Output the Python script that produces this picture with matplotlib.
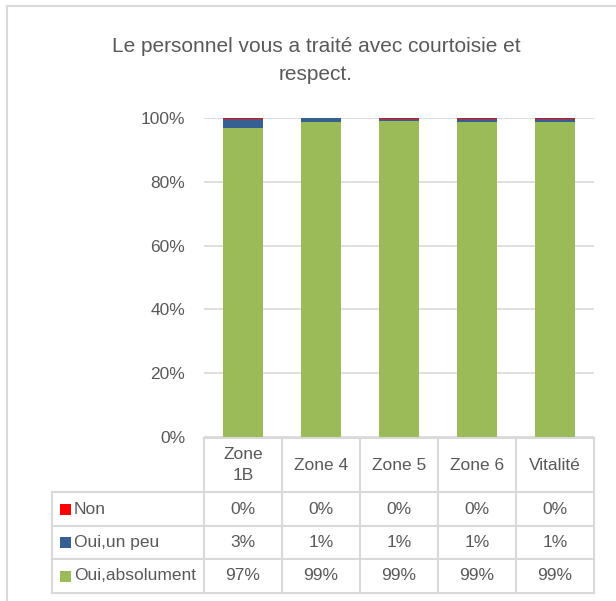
import numpy as np
from matplotlib import pyplot as plt
from matplotlib.lines import Line2D
from matplotlib.patches import Rectangle

plt.rcParams['font.family'] = ['Liberation Sans', 'DejaVu Sans']

# data (percent)
categories = ["Zone\n1B", "Zone 4", "Zone 5", "Zone 6", "Vitalité"]
series_names = ["Non", "Oui,un peu", "Oui,absolument"]
non = np.asarray([0.4, 0.1, 0.2, 0.2, 0.3])
un_peu = np.asarray([2.6, 1.0, 0.7, 1.1, 1.1])
absolument = np.asarray([97.0, 98.9, 99.1, 98.7, 98.6])
yticks = [0, 20, 40, 60, 80, 100]

red = "#FF0000"
blue = "#376092"
green = "#9BBB59"
grey = "#D9D9D9"
txt = "#595959"

W, H = 616, 601
fig = plt.figure(figsize=(W / 100, H / 100), dpi=100)

def fx(x):
    return x / W

def fy(y):
    return 1 - y / H

# chart border
fig.add_artist(Line2D([fx(7), fx(7)], [fy(6), fy(601)], color=grey, lw=1.5))
fig.add_artist(Line2D([fx(7), fx(616)], [fy(6), fy(6)], color=grey, lw=1.5))

fig.text(fx(316), fy(60), "Le personnel vous a traité avec courtoisie et\nrespect.",
         ha="center", va="center", fontsize=15, color=txt, linespacing=1.6)

# plot area
left, right, top, bottom = 204, 594, 118, 437
ax = fig.add_axes([fx(left), fy(bottom), fx(right - left), (bottom - top) / H])
x = np.arange(len(categories))
ax.bar(x, absolument, 0.51, color=green, zorder=3)
ax.bar(x, un_peu, 0.51, bottom=absolument, color=blue, zorder=3)
ax.bar(x, non, 0.51, bottom=absolument + un_peu, color=red, zorder=3)
ax.set_xlim(-0.5, len(categories) - 0.5)
ax.set_ylim(0, 100)
ax.set_yticks(yticks)
ax.set_yticklabels([f"{t}%" for t in yticks], fontsize=12.5, color=txt)
ax.tick_params(axis="y", length=0, pad=13.5)
ax.set_xticks([])
for s in ax.spines.values():
    s.set_visible(False)
ax.grid(axis="y", color=grey, lw=1.2, zorder=0)

# data table
col_w = (right - left) / len(categories)
head_top, head_bot = 438, 492
row_edges = [492, 526, 559, 593]
tab_left = 52
lc = dict(color=grey, lw=1.5)

# vertical lines
for i in range(len(categories) + 1):
    xx = left + i * col_w
    fig.add_artist(Line2D([fx(xx), fx(xx)], [fy(head_top), fy(row_edges[-1])], **lc))
fig.add_artist(Line2D([fx(tab_left), fx(tab_left)], [fy(row_edges[0]), fy(row_edges[-1])], **lc))
# horizontal lines
fig.add_artist(Line2D([fx(left), fx(right)], [fy(head_top), fy(head_top)], **lc))
for yy in row_edges:
    fig.add_artist(Line2D([fx(tab_left), fx(right)], [fy(yy), fy(yy)], **lc))

for i, c in enumerate(categories):
    fig.text(fx(left + (i + 0.5) * col_w), fy((head_top + head_bot) / 2), c,
             ha="center", va="center", fontsize=12.5, color=txt, linespacing=1.55)

rows = [(series_names[0], red, non), (series_names[1], blue, un_peu),
        (series_names[2], green, absolument)]
for r, (name, colr, vals) in enumerate(rows):
    yc = (row_edges[r] + row_edges[r + 1]) / 2
    fig.add_artist(Rectangle((fx(60), fy(yc + 5.5)), fx(11), 11 / H, color=colr, lw=0))
    fig.text(fx(74), fy(yc), name, ha="left", va="center", fontsize=12.5, color=txt)
    for i, v in enumerate(vals):
        fig.text(fx(left + (i + 0.5) * col_w), fy(yc), f"{v:.0f}%",
                 ha="center", va="center", fontsize=12.5, color=txt)

fig.savefig("out.png", dpi=100)
